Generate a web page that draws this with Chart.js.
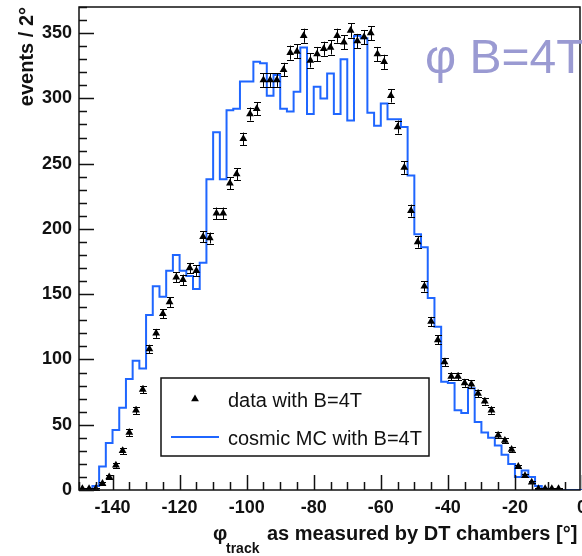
<!DOCTYPE html>
<html>
<head>
<meta charset="utf-8">
<script src="https://cdn.jsdelivr.net/npm/chart.js@4.4.1/dist/chart.umd.min.js"></script>
<style>
html,body{margin:0;padding:0;background:#fff;}
#wrap{width:582px;height:556px;position:relative;}
canvas{display:block;}
</style>
</head>
<body>
<div id="wrap"><canvas id="c" width="582" height="556"></canvas></div>
<script>
// ---- data (bins of 2 degrees, centres) ----
const binCenters = [-149,-147,-145,-143,-141,-139,-137,-135,-133,-131,-129,-127,-125,-123,-121,-119,-117,-115,-113,-111,-109,-107,-105,-103,-101,-99,-97,-95,-93,-91,-89,-87,-85,-83,-81,-79,-77,-75,-73,-71,-69,-67,-65,-63,-61,-59,-57,-55,-53,-51,-49,-47,-45,-43,-41,-39,-37,-35,-33,-31,-29,-27,-25,-23,-21,-19,-17,-15,-13,-11,-9,-7,-5,-3,-1];
const binWidth = 2;
const dataCounts = [1,1,1,5,10,19,30,44,61,77,108,120,135,144,163,161,170,168,194,193,212,212,235,242,269,288,292,314,314,314,322,335,336,348,329,334,338,339,348,343,352,344,347,350,334,328,302,278,247,214,190,156,129,115,98,87,87,82,81,74,68,61,42,38,31,18,11,6,1,1,1,1,null,null,null];
const dataErrors = [0.8,0.8,0.8,1.2,1.6,2,2.4,2.6,2.8,3,3.2,3.4,3.6,3.8,4,4,4,4,4.2,4.2,4.4,4.4,4.6,4.6,4.8,5,5,5.2,5.2,5.2,5.2,5.4,5.4,5.4,5.4,5.4,5.4,5.4,5.4,5.4,5.5,5.4,5.4,5.4,5.4,5.4,5.2,5,4.8,4.6,4.4,4,3.6,3.4,3.2,3,3,3,3,2.8,2.6,2.6,2.2,2,1.8,1.4,1.1,0.8,0.5,0.5,0.5,0.5,null,null,null];
const mcCounts = [0,0,0,3,18,36,46,63,85,99,93,134,156,148,168,180,168,164,154,174,238,274,238,291,292,313,313,328,327,302,318,292,290,305,339,288,309,300,319,288,330,283,348,346,289,279,296,284,284,278,241,196,186,147,125,83,82,61,59,78,52,44,40,34,27,20,10,15,10,3,1,0,0,0,0];
const xTickValues = [-140,-120,-100,-80,-60,-40,-20,0];
const yTickValues = [0,50,100,150,200,250,300,350];
const legendLabels = ['data with B=4T','cosmic MC with B=4T'];
const titleText = '\u03C6 B=4T';
const yTitle = 'events / 2\u00B0';
const xTitleMain = '\u03C6';
const xTitleSub = 'track';
const xTitleRest = 'as measured by DT chambers [\u00B0]';

// ---- build datasets from the arrays ----
const histPoints = binCenters.map((c, i) => ({x: c - binWidth / 2, y: mcCounts[i]}));
histPoints.push({x: binCenters[binCenters.length - 1] + binWidth / 2, y: mcCounts[mcCounts.length - 1]});
const dataPoints = [];
binCenters.forEach((c, i) => {
  if (dataCounts[i] !== null) dataPoints.push({x: c, y: dataCounts[i], e: dataErrors[i]});
});

const FONT = '"Liberation Sans", Arial, Helvetica, sans-serif';
const BLUE = '#1f66ff';

const errorBarPlugin = {
  id: 'errorBars',
  beforeDatasetDraw(chart, args) {
    if (args.index !== 0) return;
    const {ctx, scales: {x, y}} = chart;
    ctx.save();
    ctx.strokeStyle = '#000';
    ctx.lineWidth = 1;
    ctx.beginPath();
    dataPoints.forEach(p => {
      const px = Math.round(x.getPixelForValue(p.x)) + 0.5;
      const yt = y.getPixelForValue(p.y + p.e);
      const yb = y.getPixelForValue(p.y - p.e);
      ctx.moveTo(px, yt); ctx.lineTo(px, yb);
      ctx.moveTo(px - 3.5, Math.round(yt) + 0.5); ctx.lineTo(px + 3.5, Math.round(yt) + 0.5);
      ctx.moveTo(px - 3.5, Math.round(yb) + 0.5); ctx.lineTo(px + 3.5, Math.round(yb) + 0.5);
    });
    ctx.stroke();
    ctx.restore();
  }
};

const rootPlugin = {
  id: 'rootDecor',
  afterDraw(chart) {
    const {ctx, chartArea: a, scales: {x, y}} = chart;
    ctx.save();
    // frame
    ctx.strokeStyle = '#111';
    ctx.lineWidth = 1.5;
    ctx.strokeRect(a.left, a.top, (a.right - 2) - a.left, a.bottom - a.top);
    // ticks (inside)
    ctx.beginPath();
    for (let v = 0; v <= 370; v += 10) {
      const py = Math.round(y.getPixelForValue(v)) + 0.5;
      const len = (v % 50 === 0) ? 15 : 8;
      ctx.moveTo(a.left, py); ctx.lineTo(a.left + len, py);
    }
    for (let v = -150; v <= 0; v += 5) {
      const px = Math.round(x.getPixelForValue(v)) + 0.5;
      const len = (v % 20 === 0) ? 15 : 8;
      ctx.moveTo(px, a.bottom); ctx.lineTo(px, a.bottom - len);
    }
    ctx.stroke();

    // legend box
    const lx = 161, ly = 378, lw = 268, lh = 78;
    ctx.fillStyle = '#fff';
    ctx.fillRect(lx, ly, lw, lh);
    ctx.lineWidth = 1.5;
    ctx.strokeStyle = '#111';
    ctx.strokeRect(lx, ly, lw, lh);
    // marker
    ctx.fillStyle = '#000';
    const mx = 195, my = 399, r = 4.5;
    ctx.beginPath();
    ctx.moveTo(mx, my - r);
    ctx.lineTo(mx + r * 0.866, my + r * 0.5);
    ctx.lineTo(mx - r * 0.866, my + r * 0.5);
    ctx.closePath();
    ctx.fill();
    // line
    ctx.strokeStyle = BLUE;
    ctx.lineWidth = 2;
    ctx.beginPath();
    ctx.moveTo(171, 437); ctx.lineTo(219, 437);
    ctx.stroke();
    ctx.fillStyle = '#111';
    ctx.font = '20px ' + FONT;
    ctx.textBaseline = 'alphabetic';
    ctx.textAlign = 'left';
    ctx.fillText(legendLabels[0], 228, 407);
    ctx.fillText(legendLabels[1], 228, 445);

    // big title
    ctx.fillStyle = '#9a9ad2';
    ctx.font = '48px ' + FONT;
    ctx.fillText(titleText, 425, 73);

    // y title
    ctx.save();
    ctx.translate(33, 7);
    ctx.rotate(-Math.PI / 2);
    ctx.fillStyle = '#111';
    ctx.font = 'bold 20px ' + FONT;
    ctx.textAlign = 'right';
    ctx.textBaseline = 'alphabetic';
    ctx.fillText(yTitle, 0, 0);
    ctx.restore();

    // x title
    ctx.fillStyle = '#111';
    ctx.textAlign = 'left';
    ctx.font = 'bold 20px ' + FONT;
    ctx.fillText(xTitleMain, 213, 540);
    ctx.font = 'bold 14px ' + FONT;
    ctx.fillText(xTitleSub, 226, 553);
    ctx.font = 'bold 20px ' + FONT;
    ctx.fillText(xTitleRest, 267, 540);
    ctx.restore();
  }
};

const zeroPad = s => { s.paddingLeft = 0; s.paddingRight = 0; s.paddingTop = 0; s.paddingBottom = 0; };

new Chart(document.getElementById('c'), {
  type: 'scatter',
  data: {
    datasets: [
      {
        label: legendLabels[0],
        data: dataPoints,
        pointStyle: 'triangle',
        pointRadius: 4.5,
        pointBackgroundColor: '#000',
        pointBorderColor: '#000',
        pointBorderWidth: 0,
        showLine: false,
        order: 0
      },
      {
        label: legendLabels[1],
        type: 'line',
        data: histPoints,
        stepped: 'after',
        borderColor: BLUE,
        borderWidth: 2,
        pointRadius: 0,
        fill: false,
        order: 1
      }
    ]
  },
  options: {
    responsive: false,
    animation: false,
    devicePixelRatio: 1,
    layout: {padding: {top: 7, right: 0, left: 0, bottom: 0}, autoPadding: false},
    plugins: {legend: {display: false}, tooltip: {enabled: false}},
    scales: {
      x: {
        type: 'linear', min: -150, max: 0,
        afterBuildTicks: ax => { ax.ticks = xTickValues.map(v => ({value: v})); },
        afterFit: s => { s.height = 66; zeroPad(s); },
        grid: {display: false, drawTicks: false},
        border: {display: false},
        ticks: {
          color: '#111', padding: 7, maxRotation: 0, autoSkip: false,
          font: {family: FONT, size: 18, weight: 'bold'},
          callback: v => String(v)
        }
      },
      y: {
        type: 'linear', min: 0, max: 370,
        afterBuildTicks: ax => { ax.ticks = yTickValues.map(v => ({value: v})); },
        afterFit: s => { s.width = 79; zeroPad(s); },
        grid: {display: false, drawTicks: false},
        border: {display: false},
        ticks: {
          color: '#111', padding: 7, autoSkip: false,
          font: {family: FONT, size: 18, weight: 'bold'},
          callback: v => String(v)
        }
      }
    }
  },
  plugins: [errorBarPlugin, rootPlugin]
});
</script>
</body>
</html>
